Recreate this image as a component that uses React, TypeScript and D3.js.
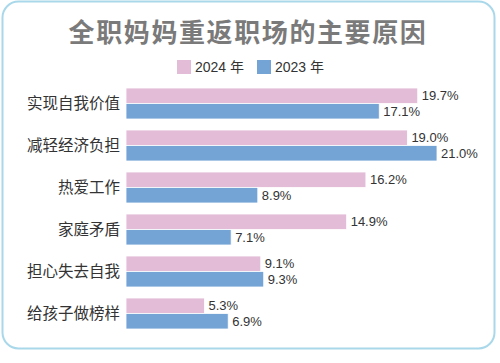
import React, { useRef, useEffect } from 'react';
import * as d3 from 'd3';

const categories = ['实现自我价值', '减轻经济负担', '热爱工作', '家庭矛盾', '担心失去自我', '给孩子做榜样'];
const values2024 = [19.7, 19.0, 16.2, 14.9, 9.1, 5.3];
const values2023 = [17.1, 21.0, 8.9, 7.1, 9.3, 6.9];
const seriesNames = ['2024 年', '2023 年'];
const seriesColors = ['#e3bdd7', '#74a3d5'];

const App: React.FC = () => {
  const svgRef = useRef<SVGSVGElement>(null);

  useEffect(() => {
    const svg = d3.select(svgRef.current);
    const width = 500;
    const height = 363;
    svg.selectAll('*').remove();
    svg.attr('width', width).attr('height', height);

    // frame
    svg
      .append('rect')
      .attr('x', 2.5)
      .attr('y', 1.5)
      .attr('width', 492)
      .attr('height', 347)
      .attr('rx', 16)
      .attr('fill', '#fff')
      .attr('stroke', '#a9d8ea')
      .attr('stroke-width', 2);

    svg
      .append('text')
      .attr('x', 248)
      .attr('y', 42)
      .attr('text-anchor', 'middle')
      .style('font-family', '"Noto Sans CJK SC", sans-serif')
      .style('font-weight', 'bold')
      .style('font-size', '26px')
      .style('letter-spacing', '1.6px')
      .attr('fill', '#7a7a7a')
      .text('全职妈妈重返职场的主要原因');

    // legend
    const legendX = [177, 257];
    seriesNames.forEach((name, i) => {
      const g = svg.append('g').attr('transform', `translate(${legendX[i]},60)`);
      g.append('rect').attr('width', 14).attr('height', 14).attr('fill', seriesColors[i]);
      g.append('text')
        .attr('x', 18)
        .attr('y', 12)
        .style('font-family', '"Liberation Sans", "Noto Sans CJK SC", sans-serif')
        .style('font-size', '14px')
        .attr('fill', '#333')
        .text(name);
    });

    const x = d3.scaleLinear().domain([0, 21]).range([126, 437]);
    const y0 = d3
      .scaleBand<string>()
      .domain(categories)
      .range([82.5, 334.5])
      .paddingInner(11 / 42)
      .paddingOuter(5.5 / 42);
    const y1 = d3.scaleBand<string>().domain(seriesNames).range([0, y0.bandwidth()]);

    const series = [values2024, values2023];

    const groups = svg
      .selectAll('g.cat')
      .data(categories)
      .enter()
      .append('g')
      .attr('class', 'cat')
      .attr('transform', (d) => `translate(0,${y0(d)})`);

    groups
      .append('text')
      .attr('x', 120)
      .attr('y', y0.bandwidth() / 2)
      .attr('dy', '0.36em')
      .attr('text-anchor', 'end')
      .style('font-family', '"Noto Sans CJK SC", sans-serif')
      .style('font-size', '15.5px')
      .attr('fill', '#333')
      .text((d) => d);

    groups.each(function (_, ci) {
      const g = d3.select(this);
      seriesNames.forEach((s, si) => {
        const v = series[si][ci];
        g.append('rect')
          .attr('x', x(0))
          .attr('y', y1(s)!)
          .attr('width', x(v) - x(0))
          .attr('height', y1.bandwidth())
          .attr('fill', seriesColors[si])
          .attr('stroke', '#fff')
          .attr('stroke-width', 0.8);
        g.append('text')
          .attr('x', x(v) + 4)
          .attr('y', y1(s)! + y1.bandwidth() / 2)
          .attr('dy', '0.36em')
          .style('font-family', '"Liberation Sans", Arial, sans-serif')
          .style('font-size', '13px')
          .attr('fill', '#333')
          .text(v.toFixed(1) + '%');
      });
    });
  }, []);

  return <svg ref={svgRef} style={{ position: 'absolute', left: 0, top: 0 }} />;
};

export default App;
